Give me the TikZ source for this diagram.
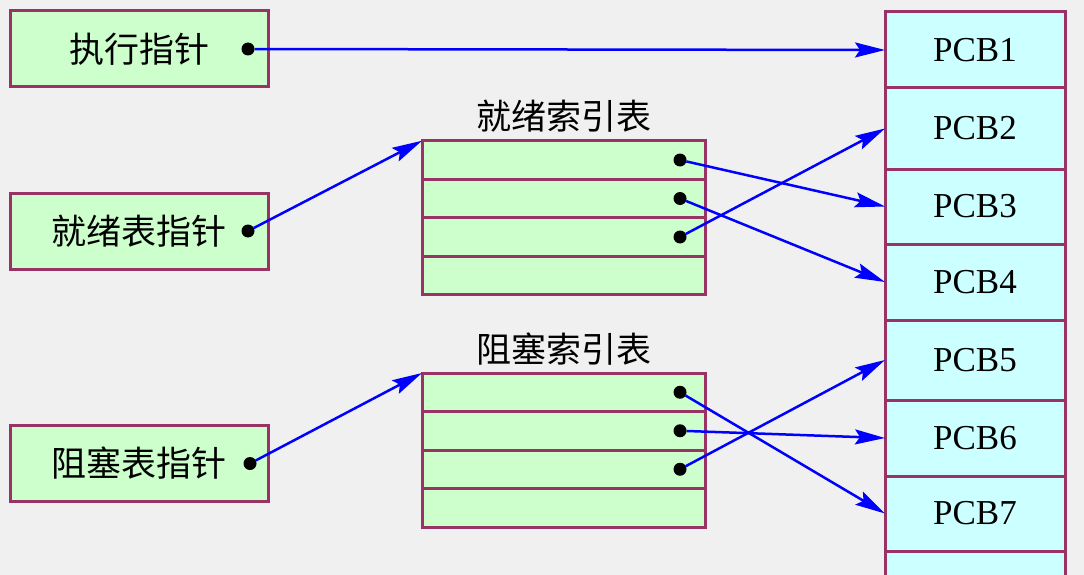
\documentclass[tikz,border=0pt]{standalone}
\usepackage{fontspec}
\setmainfont{Liberation Serif}
\newfontfamily\cjk{Noto Sans CJK SC}
\usetikzlibrary{positioning, arrows.meta}

\definecolor{bgcol}{HTML}{F0F0F0}
\definecolor{boxgreen}{HTML}{CCFFCC}
\definecolor{boxline}{HTML}{993366}
\definecolor{pcbcyan}{HTML}{CCFFFF}
\definecolor{ptrblue}{HTML}{0000FF}

\begin{document}
\begin{tikzpicture}[
  x=1pt, y=-1pt,
  font=\fontsize{35}{40}\selectfont,
  every node/.style={inner sep=0pt, outer sep=0pt},
  ptrbox/.style={
    draw=boxline, line width=3pt, fill=boxgreen, minimum width=258pt,
    minimum height=76pt, font=\cjk\fontsize{35}{40}\selectfont,
  },
  tabrow/.style={
    draw=boxline, line width=3pt, fill=boxgreen, minimum width=283pt,
    minimum height=38.5pt,
  },
  pcb/.style={
    draw=boxline, line width=3pt, fill=pcbcyan, minimum width=180pt,
    anchor=north,
  },
  ptrdot/.style={circle, fill=black, minimum size=13pt},
  tabtitle/.style={font=\cjk\fontsize{35}{40}\selectfont},
  ptr/.style={-{Stealth[length=30pt,width=15pt,inset=5pt]},
              draw=ptrblue, line width=2.5pt},
]

% ── Canvas ─────────────────────────────────────────────────────────
\useasboundingbox (0,0) rectangle (1084,575);
\clip (0,0) rectangle (1084,575);
\fill[bgcol] (0,0) rectangle (1084,575);

% ── Column x-positions ─────────────────────────────────────────────
\def\cPtr{139}
\def\cTab{563.5}
\def\cPcb{975}

% ── Pointer boxes (left column) ────────────────────────────────────
\node[ptrbox] (execptr) at (\cPtr,49)    {执行指针};
\node[ptrbox] (rdyptr)  at (\cPtr,231)   {就绪表指针};
\node[ptrbox] (blkptr)  at (\cPtr,463.5) {阻塞表指针};

\node[ptrdot] (execdot) at ([xshift=-20pt]execptr.east) {};
\node[ptrdot] (rdydot)  at ([xshift=-20pt]rdyptr.east)  {};
\node[ptrdot] (blkdot)  at ([xshift=-18pt]blkptr.east)  {};

% ── Ready index table ──────────────────────────────────────────────
\node[tabrow] (rdyA) at (\cTab,160) {};
\node[tabrow, below=0pt of rdyA] (rdyB) {};
\node[tabrow, below=0pt of rdyB] (rdyC) {};
\node[tabrow, below=0pt of rdyC] (rdyD) {};
\node[tabtitle, above=8pt of rdyA] (rdytitle) {就绪索引表};

% ── Blocked index table ────────────────────────────────────────────
\node[tabrow] (blkA) at (\cTab,392.25) {};
\node[tabrow, below=0pt of blkA] (blkB) {};
\node[tabrow, below=0pt of blkB] (blkC) {};
\node[tabrow, below=0pt of blkC] (blkD) {};
\node[tabtitle, above=8pt of blkA] (blktitle) {阻塞索引表};

% ── Dots in the table rows ─────────────────────────────────────────
\foreach \t in {rdy,blk}{
  \foreach \r in {A,B,C}{
    \node[ptrdot] (\t\r dot) at ([xshift=-25pt]\t\r.east) {};
  }
}

% ── PCB column (right) ─────────────────────────────────────────────
\node[pcb, minimum height=76pt] (pcb1) at (\cPcb,12)  {PCB1};
\node[pcb, minimum height=81pt] (pcb2) at (\cPcb,88)  {PCB2};
\node[pcb, minimum height=75pt] (pcb3) at (\cPcb,169) {PCB3};
\node[pcb, minimum height=76pt] (pcb4) at (\cPcb,244) {PCB4};
\node[pcb, minimum height=80pt] (pcb5) at (\cPcb,320) {PCB5};
\node[pcb, minimum height=76pt] (pcb6) at (\cPcb,400) {PCB6};
\node[pcb, minimum height=75pt] (pcb7) at (\cPcb,476) {PCB7};
\node[pcb, minimum height=76pt] (pcb8) at (\cPcb,551) {};

% ── Pointers ───────────────────────────────────────────────────────
\draw[ptr] (execdot) -- (pcb1.west);
\draw[ptr] (rdydot)  -- (rdyA.north west);
\draw[ptr] (blkdot)  -- (blkA.north west);

\draw[ptr] (rdyAdot) -- (pcb3.west);
\draw[ptr] (rdyBdot) -- (pcb4.west);
\draw[ptr] (rdyCdot) -- (pcb2.west);

\draw[ptr] (blkAdot) -- (pcb7.west);
\draw[ptr] (blkBdot) -- (pcb6.west);
\draw[ptr] (blkCdot) -- (pcb5.west);

\end{tikzpicture}
\end{document}
